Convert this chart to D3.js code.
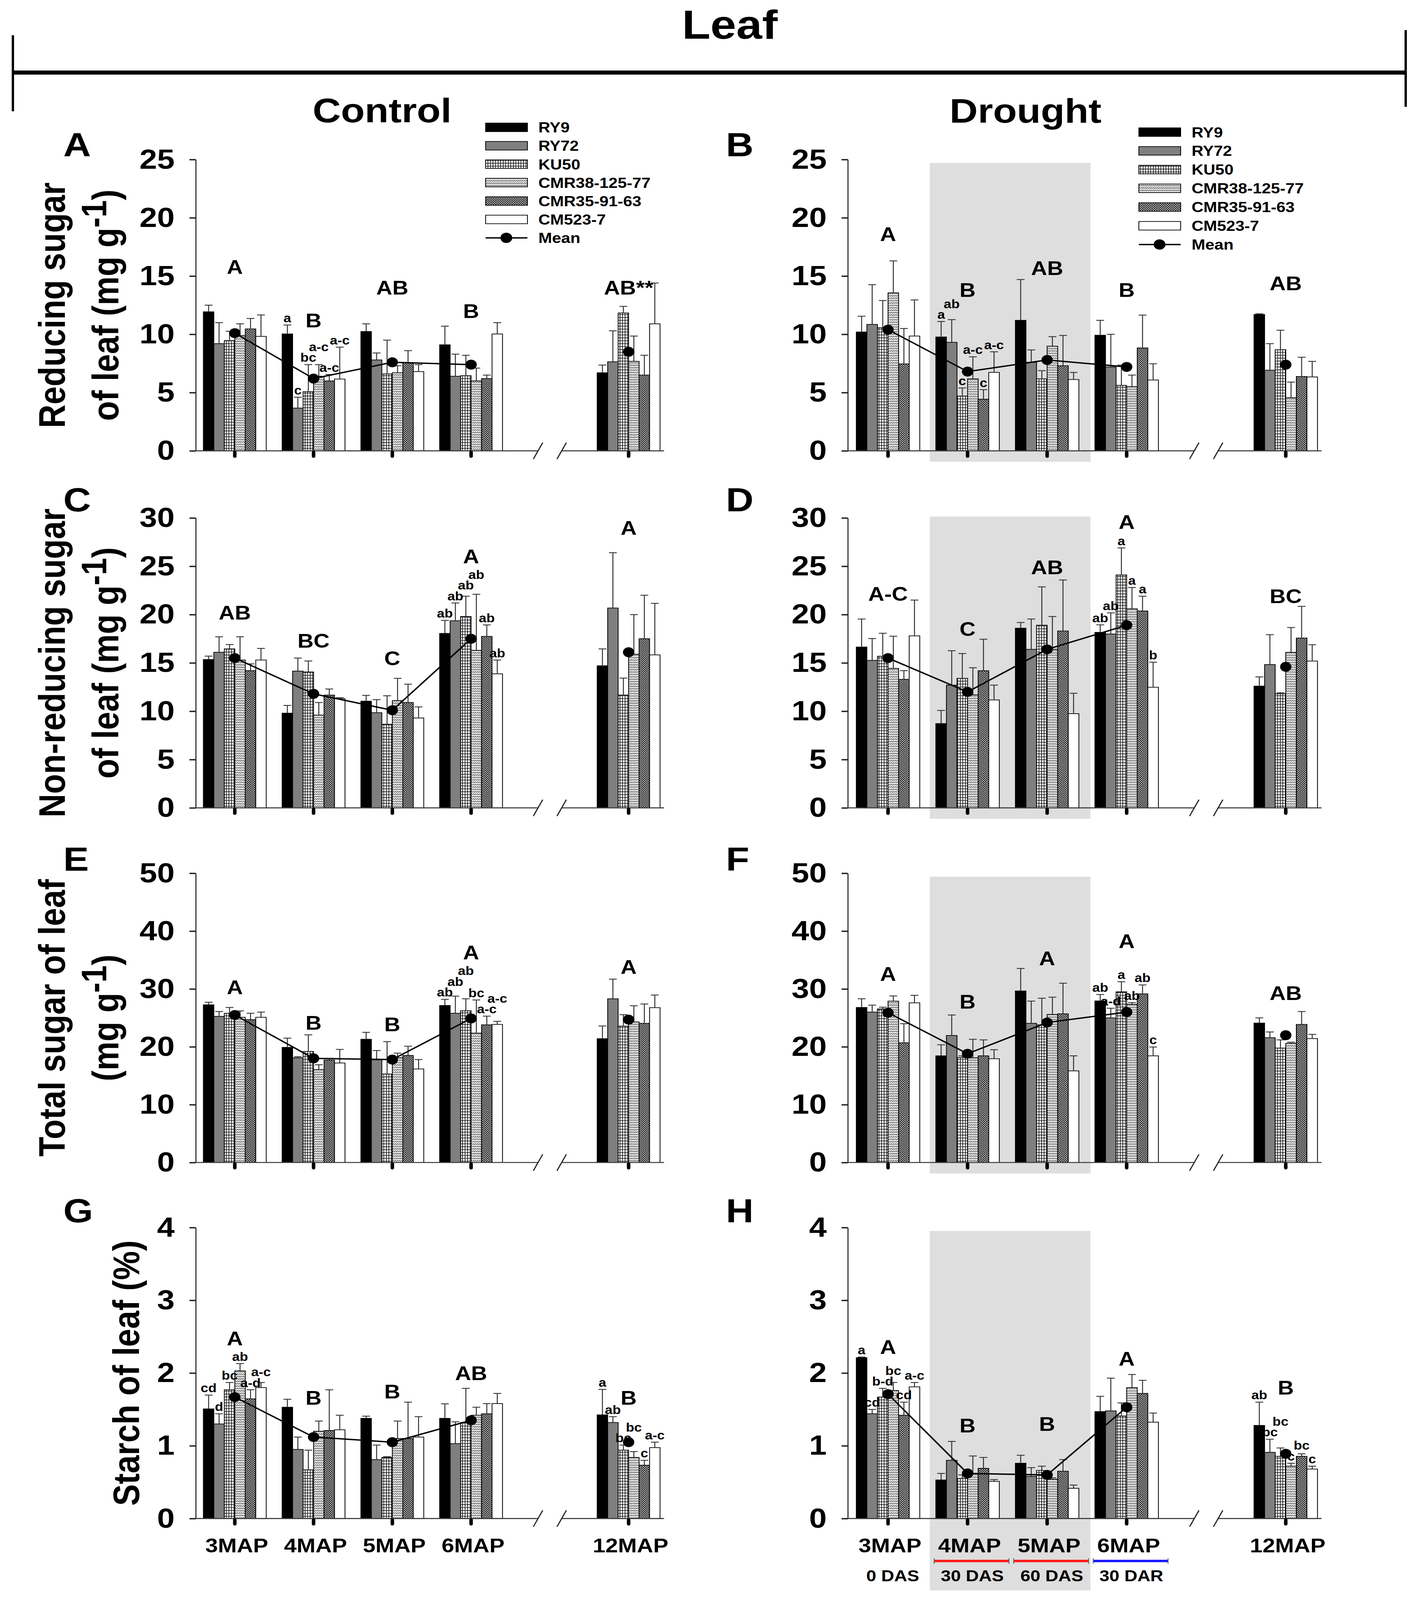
<!DOCTYPE html>
<html>
<head>
<meta charset="utf-8">
<script src="https://cdn.jsdelivr.net/npm/d3@7"></script>
<style>
  html, body { margin: 0; padding: 0; background: #fff; overflow: hidden; }
  svg { display: block; }
  text { font-family: "Liberation Sans", Arial, Helvetica, sans-serif; font-weight: bold; fill: #000; }
</style>
</head>
<body>
<div id="chart"></div>
<script>

// 1. Data

const groups = ["3MAP", "4MAP", "5MAP", "6MAP", "12MAP"];
const groupPos = [0, 1, 2, 3, 5];   // 12MAP sits after the axis break
const cultivars = ["RY9", "RY72", "KU50", "CMR38-125-77", "CMR35-91-63", "CM523-7"];

// A - reducing sugar, control
const redCtrl = [
    [11.93, 9.2, 9.46, 9.9, 10.46, 9.82],
    [10.03, 3.67, 5.08, 6.4, 6.0, 6.16],
    [10.24, 7.8, 6.6, 6.7, 7.57, 6.8],
    [9.1, 6.4, 6.45, 6.0, 6.2, 10.03],
    [6.7, 7.64, 11.83, 7.68, 6.5, 10.9]
];
const redCtrlSE = [
    [0.57, 1.8, 0.8, 1.0, 0.9, 1.84],
    [0.77, 0.93, 2.32, 1.0, 0.55, 2.74],
    [0.66, 0.6, 2.9, 0.6, 1.03, 0.6],
    [1.6, 1.9, 1.75, 1.1, 0.3, 0.97],
    [0.66, 2.66, 0.57, 2.17, 1.7, 3.5]
];
const redCtrlMean = [10.1, 6.2, 7.6, 7.4, 8.5];
const redCtrlLetters = ["A", "B", "AB", "B", "AB**"];
const redCtrlLetterY = [15.8, 11.2, 14.0, 12.0, 14.0];
const redCtrlSmall = {1: ["a", "c", "bc", "a-c", "a-c", "a-c"]};

// B - reducing sugar, drought
const redDrt = [
    [10.2, 10.85, 10.57, 13.56, 7.46, 9.85],
    [9.77, 9.31, 4.7, 6.18, 4.43, 6.73],
    [11.2, 7.6, 6.18, 8.98, 7.3, 6.12],
    [9.92, 7.2, 5.62, 5.51, 8.83, 6.08],
    [11.7, 6.92, 8.68, 4.56, 6.38, 6.34]
];
const redDrtSE = [
    [1.35, 3.41, 2.33, 2.74, 3.04, 3.1],
    [1.33, 1.95, 0.7, 1.89, 0.82, 1.77],
    [3.5, 1.06, 0.7, 0.82, 2.6, 0.61],
    [1.28, 2.8, 1.74, 0.99, 2.82, 1.39],
    [0.06, 2.28, 1.67, 1.34, 1.65, 1.34]
];
const redDrtMean = [10.4, 6.8, 7.8, 7.2, 7.4];
const redDrtLetters = ["A", "B", "AB", "B", "AB"];
const redDrtLetterY = [18.6, 13.8, 15.7, 13.8, 14.4];
const redDrtSmall = {1: ["a", "ab", "c", "a-c", "c", "a-c"]};

// C - non-reducing sugar, control
const nonCtrl = [
    [15.35, 16.1, 16.45, 15.3, 14.2, 15.3],
    [9.8, 14.15, 14.06, 9.6, 11.67, 11.3],
    [11.04, 9.85, 8.65, 11.1, 10.9, 9.3],
    [18.05, 19.36, 19.8, 16.3, 17.74, 13.87],
    [14.7, 20.68, 11.67, 15.9, 17.5, 15.83]
];
const nonCtrlSE = [
    [0.35, 1.6, 0.45, 2.4, 0.7, 1.2],
    [0.8, 1.35, 1.14, 1.3, 0.63, 0.1],
    [0.6, 1.35, 2.95, 2.3, 1.9, 1.15],
    [1.35, 1.84, 2.1, 5.8, 1.19, 1.43],
    [1.75, 5.72, 1.76, 4.1, 4.5, 5.33]
];
const nonCtrlMean = [15.5, 11.8, 10.1, 17.5, 16.1];
const nonCtrlLetters = ["AB", "BC", "C", "A", "A"];
const nonCtrlLetterY = [20.2, 17.3, 15.5, 25.6, 29.0];
const nonCtrlSmall = {3: ["ab", "ab", "ab", "ab", "ab", "ab"]};

// D - non-reducing sugar, drought
const nonDrt = [
    [16.64, 15.26, 15.69, 14.43, 13.3, 17.8],
    [8.72, 12.7, 13.4, 11.7, 14.19, 11.17],
    [18.59, 16.4, 18.9, 16.4, 18.3, 9.75],
    [18.16, 17.99, 24.1, 20.6, 20.37, 12.48],
    [12.6, 14.83, 11.81, 16.09, 17.57, 15.19]
];
const nonDrtSE = [
    [2.9, 2.26, 2.38, 3.33, 0.9, 3.7],
    [1.36, 3.56, 2.57, 2.8, 3.26, 1.53],
    [0.59, 3.14, 3.97, 3.4, 5.28, 2.11],
    [0.78, 2.19, 2.8, 2.2, 1.53, 2.59],
    [0.95, 3.09, 0.1, 2.57, 3.28, 1.69]
];
const nonDrtMean = [15.5, 12.0, 16.4, 18.9, 14.6];
const nonDrtLetters = ["A-C", "C", "AB", "A", "BC"];
const nonDrtLetterY = [22.15, 18.5, 24.9, 29.6, 21.9];
const nonDrtSmall = {3: ["ab", "ab", "a", "a", "a", "b"]};

// E - total sugar, control
const totCtrl = [
    [27.26, 25.26, 25.8, 25.1, 24.7, 25.1],
    [19.9, 18.1, 19.2, 16.05, 17.7, 17.2],
    [21.3, 17.74, 15.3, 18.1, 18.5, 16.17],
    [27.14, 25.8, 26.24, 22.37, 23.8, 23.87],
    [21.4, 28.3, 23.57, 24.3, 24.06, 26.77]
];
const totCtrlSE = [
    [0.44, 0.84, 1.0, 1.1, 1.1, 0.9],
    [1.6, 0.2, 2.87, 0.85, 0.3, 2.35],
    [1.2, 1.62, 5.6, 0.8, 1.6, 1.63],
    [1.06, 2.96, 2.06, 5.73, 1.5, 0.53],
    [2.2, 3.4, 1.99, 2.8, 3.34, 2.18]
];
const totCtrlMean = [25.5, 18.0, 17.8, 24.9, 24.7];
const totCtrlLetters = ["A", "B", "B", "A", "A"];
const totCtrlLetterY = [30.3, 24.2, 23.9, 33.8, 33.8];
const totCtrlSmall = {3: ["ab", "ab", "ab", "bc", "a-c", "a-c"]};

// F - total sugar, drought
const totDrt = [
    [26.8, 26.0, 26.55, 27.9, 20.7, 27.6],
    [18.44, 21.96, 18.13, 18.1, 18.44, 17.94],
    [29.65, 24.06, 23.8, 25.6, 25.7, 15.84],
    [27.93, 25.0, 29.5, 27.35, 29.15, 18.44],
    [24.1, 21.58, 19.78, 20.6, 23.87, 21.42]
];
const totDrtSE = [
    [1.5, 1.2, 0.3, 0.9, 3.3, 1.3],
    [1.91, 3.54, 0.3, 3.2, 2.76, 1.56],
    [3.9, 3.84, 4.6, 2.98, 5.3, 2.6],
    [1.11, 1.67, 1.75, 0.3, 1.55, 1.53],
    [0.9, 0.99, 1.42, 0.2, 2.23, 0.73]
];
const totDrtMean = [25.9, 18.8, 24.2, 26.0, 22.0];
const totDrtLetters = ["A", "B", "A", "A", "AB"];
const totDrtLetterY = [32.6, 27.8, 35.3, 38.3, 29.3];
const totDrtSmall = {3: ["ab", "a-d", "a", "ab", "ab", "c"]};

// G - starch, control
const stCtrl = [
    [1.507, 1.30, 1.77, 2.03, 1.645, 1.80],
    [1.53, 0.95, 0.67, 1.20, 1.21, 1.22],
    [1.377, 0.81, 0.84, 1.10, 1.10, 1.12],
    [1.377, 1.03, 1.32, 1.42, 1.44, 1.58],
    [1.425, 1.32, 0.94, 0.84, 0.733, 0.975]
];
const stCtrlSE = [
    [0.19, 0.14, 0.10, 0.10, 0.125, 0.07],
    [0.11, 0.17, 0.27, 0.14, 0.56, 0.20],
    [0.03, 0.20, 0.01, 0.24, 0.50, 0.28],
    [0.20, 0.30, 0.47, 0.11, 0.14, 0.14],
    [0.35, 0.08, 0.07, 0.08, 0.067, 0.075]
];
const stCtrlMean = [1.67, 1.12, 1.05, 1.35, 1.05];
const stCtrlLetters = ["A", "B", "B", "AB", "B"];
const stCtrlLetterY = [2.48, 1.66, 1.75, 2.0, 1.66];
const stCtrlSmall = {
    0: ["cd", "d", "bc", "ab", "a-d", "a-c"],
    4: ["a", "ab", "bc", "bc", "c", "a-c"]
};

// H - starch, drought
const stDrt = [
    [2.21, 1.44, 1.67, 1.76, 1.42, 1.81],
    [0.53, 0.80, 0.55, 0.62, 0.69, 0.51],
    [0.76, 0.58, 0.66, 0.54, 0.65, 0.415],
    [1.47, 1.48, 1.41, 1.80, 1.72, 1.325],
    [1.28, 0.91, 0.855, 0.72, 0.855, 0.68]
];
const stDrtSE = [
    [0.01, 0.06, 0.12, 0.11, 0.18, 0.06],
    [0.09, 0.26, 0.05, 0.24, 0.15, 0.025],
    [0.11, 0.12, 0.06, 0.02, 0.16, 0.045],
    [0.21, 0.45, 0.18, 0.18, 0.18, 0.125],
    [0.32, 0.18, 0.115, 0.04, 0.035, 0.04]
];
const stDrtMean = [1.71, 0.62, 0.60, 1.53, 0.89];
const stDrtLetters = ["A", "B", "B", "A", "B"];
const stDrtLetterY = [2.36, 1.28, 1.30, 2.2, 1.8];
const stDrtSmall = {
    0: ["a", "cd", "b-d", "bc", "cd", "a-c"],
    4: ["ab", "bc", "bc", "c", "bc", "c"]
};

// drought stage annotation under panel H
const stageLabels = ["0 DAS", "30 DAS", "60 DAS", "30 DAR"];
const stageColors = [null, "#ff1a1a", "#ff1a1a", "#1a1aff"];

const yMax = [25, 30, 50, 4];
const yStep = [5, 5, 10, 1];

const panels = [
    {id: "A", col: 0, row: 0, v: redCtrl, se: redCtrlSE, mean: redCtrlMean, L: redCtrlLetters, LY: redCtrlLetterY, small: redCtrlSmall,
     title: ["Reducing sugar", "of leaf (mg g", "-1", ")"]},
    {id: "B", col: 1, row: 0, v: redDrt, se: redDrtSE, mean: redDrtMean, L: redDrtLetters, LY: redDrtLetterY, small: redDrtSmall},
    {id: "C", col: 0, row: 1, v: nonCtrl, se: nonCtrlSE, mean: nonCtrlMean, L: nonCtrlLetters, LY: nonCtrlLetterY, small: nonCtrlSmall,
     title: ["Non-reducing sugar", "of leaf (mg g", "-1", ")"]},
    {id: "D", col: 1, row: 1, v: nonDrt, se: nonDrtSE, mean: nonDrtMean, L: nonDrtLetters, LY: nonDrtLetterY, small: nonDrtSmall},
    {id: "E", col: 0, row: 2, v: totCtrl, se: totCtrlSE, mean: totCtrlMean, L: totCtrlLetters, LY: totCtrlLetterY, small: totCtrlSmall,
     title: ["Total sugar of leaf", "(mg g", "-1", ")"]},
    {id: "F", col: 1, row: 2, v: totDrt, se: totDrtSE, mean: totDrtMean, L: totDrtLetters, LY: totDrtLetterY, small: totDrtSmall},
    {id: "G", col: 0, row: 3, v: stCtrl, se: stCtrlSE, mean: stCtrlMean, L: stCtrlLetters, LY: stCtrlLetterY, small: stCtrlSmall,
     title: [null, "Starch of leaf (%)", null, null]},
    {id: "H", col: 1, row: 3, v: stDrt, se: stDrtSE, mean: stDrtMean, L: stDrtLetters, LY: stDrtLetterY, small: stDrtSmall}
];

// 2. Dimensions (laid out on a 3609 x 4674 grid, then fitted to the window)

const width = 3609;
const height = 4674;

const cols = [
    {axisX: 501, x0: 601, x5: 1609, letterX: 162, legendX: 1243, legendY: 372, legendGap: 53.8},
    {axisX: 2170, x0: 2273, x5: 3291, letterX: 1858, legendX: 2915, legendY: 386, legendGap: 54.7}
];
const rows = [
    {top: 466, bottom: 1317, letterY: 457},
    {top: 1513, bottom: 2360, letterY: 1494},
    {top: 2551, bottom: 3396, letterY: 2544},
    {top: 3586, bottom: 4436, letterY: 3570}
];
const axisEndP = 5.45;
const breakP = [3.85, 4.15];
const barFrac = 0.133;

// 3. Canvas

const svg = d3.select("#chart")
    .append("svg")
        .attr("width", window.innerWidth || width)
        .attr("height", window.innerHeight || height)
        .attr("viewBox", `0 0 ${width} ${height}`)
        .attr("preserveAspectRatio", "none");

svg.append("rect").attr("width", width).attr("height", height).attr("fill", "#fff");

// patterns for the hatched cultivars
const defs = svg.append("defs");

const pGrid = defs.append("pattern")
    .attr("id", "pGrid").attr("patternUnits", "userSpaceOnUse")
    .attr("width", 6.5).attr("height", 8.5);
pGrid.append("rect").attr("width", 6.5).attr("height", 8.5).attr("fill", "#fff");
pGrid.append("path").attr("d", "M0 0.8 H6.5 M0.8 0 V8.5")
    .attr("stroke", "#000").attr("stroke-width", 1.6);

const pZig = defs.append("pattern")
    .attr("id", "pZig").attr("patternUnits", "userSpaceOnUse")
    .attr("width", 10).attr("height", 7);
pZig.append("rect").attr("width", 10).attr("height", 7).attr("fill", "#f2f2f2");
pZig.append("path").attr("d", "M0 5 L2.5 1.5 L5 5 L7.5 1.5 L10 5")
    .attr("stroke", "#555").attr("stroke-width", 1.5).attr("fill", "none");

const pCross = defs.append("pattern")
    .attr("id", "pCross").attr("patternUnits", "userSpaceOnUse")
    .attr("width", 6).attr("height", 6);
pCross.append("rect").attr("width", 6).attr("height", 6).attr("fill", "#fff");
pCross.append("path").attr("d", "M0 0 L6 6 M6 0 L0 6")
    .attr("stroke", "#222").attr("stroke-width", 1.9);

const fills = ["#000", "#7f7f7f", "url(#pGrid)", "url(#pZig)", "url(#pCross)", "#fff"];

// 4. Header: Leaf bracket, Control / Drought

svg.append("text")
    .attr("x", 1868).attr("y", 113)
    .attr("text-anchor", "middle")
    .attr("font-size", 119)
    .text("Leaf");

svg.append("line").attr("x1", 32).attr("x2", 3600).attr("y1", 212).attr("y2", 212)
    .attr("stroke", "#000").attr("stroke-width", 12);
svg.append("line").attr("x1", 33).attr("x2", 33).attr("y1", 103).attr("y2", 325)
    .attr("stroke", "#000").attr("stroke-width", 6);
svg.append("line").attr("x1", 3598).attr("x2", 3598).attr("y1", 88).attr("y2", 312)
    .attr("stroke", "#000").attr("stroke-width", 6);

svg.append("text").attr("x", 978).attr("y", 357)
    .attr("text-anchor", "middle").attr("font-size", 100).text("Control");
svg.append("text").attr("x", 2625).attr("y", 358)
    .attr("text-anchor", "middle").attr("font-size", 100).text("Drought");

const overlaps = (b, q, pad) => b.x < q.x + q.width - 1 && q.x < b.x + b.width - 1
    && b.y < q.y + q.height - pad && q.y < b.y + b.height - pad;

// nudge a small letter upward until it clears the ones already placed
function stackLabels(nodes) {
    const placed = [];
    nodes.forEach(node => {
        for (let k = 0; k < 8; k++) {
            const b = node.getBBox();
            const hit = placed.find(q => overlaps(b, q, 6));
            if (!hit) break;
            const cur = +node.getAttribute("y");
            node.setAttribute("y", cur - (b.y + b.height - hit.y) + 8);
        }
        placed.push(node.getBBox());
    });
    return placed;
}

// 5. Panels

panels.forEach(p => {
    const c = cols[p.col];
    const r = rows[p.row];
    const g = svg.append("g").attr("id", "panel" + p.id);

    const xScale = d3.scaleLinear().domain([0, 5]).range([c.x0, c.x5]);
    const step = xScale(1) - xScale(0);
    const bw = step * barFrac;
    const yScale = d3.scaleLinear().domain([0, yMax[p.row]]).range([r.bottom, r.top]);
    const y0 = yScale(0);

    // drought period shading
    if (p.col === 1) {
        const shTop = r.top + (p.row === 1 ? -4 : 10);
        g.append("rect")
            .attr("x", xScale(0.525))
            .attr("width", xScale(2.545) - xScale(0.525))
            .attr("y", shTop)
            .attr("height", (p.row === 3 ? 4646 : y0 + 32) - shTop)
            .attr("fill", "#dedede");
    }

    // bars
    const barData = [];
    p.v.forEach((vals, gi) => vals.forEach((val, ci) => barData.push({gi, ci, val, se: p.se[gi][ci]})));
    const cx = d => xScale(groupPos[d.gi]) + (d.ci - 2.5) * bw;

    g.append("g").selectAll("rect")
        .data(barData)
        .join("rect")
            .attr("x", d => cx(d) - bw / 2)
            .attr("width", bw)
            .attr("y", d => yScale(d.val))
            .attr("height", d => y0 - yScale(d.val))
            .attr("fill", d => fills[d.ci])
            .attr("stroke", "#000")
            .attr("stroke-width", 2);

    // error bars (upper only)
    const err = g.append("g").attr("stroke", "#333").attr("stroke-width", 2.5);
    err.selectAll("line.v")
        .data(barData)
        .join("line")
            .attr("class", "v")
            .attr("x1", cx).attr("x2", cx)
            .attr("y1", d => yScale(d.val))
            .attr("y2", d => yScale(d.val + d.se));
    err.selectAll("line.cap")
        .data(barData)
        .join("line")
            .attr("class", "cap")
            .attr("x1", d => cx(d) - 10).attr("x2", d => cx(d) + 10)
            .attr("y1", d => yScale(d.val + d.se))
            .attr("y2", d => yScale(d.val + d.se));

    // mean line and dots
    const meanLine = d3.line()
        .x((d, i) => xScale(groupPos[i]))
        .y(d => yScale(d));
    g.append("path")
        .attr("d", meanLine(p.mean.slice(0, 4)))
        .attr("fill", "none")
        .attr("stroke", "#000")
        .attr("stroke-width", 4);
    g.append("g").selectAll("circle")
        .data(p.mean)
        .join("circle")
            .attr("cx", (d, i) => xScale(groupPos[i]))
            .attr("cy", d => yScale(d))
            .attr("r", 14.5)
            .attr("fill", "#000");

    // y axis
    const yAxis = d3.axisLeft(yScale)
        .tickValues(d3.range(0, yMax[p.row] + yStep[p.row] / 2, yStep[p.row]))
        .tickFormat(d3.format("d"))
        .tickSize(16)
        .tickSizeOuter(0)
        .tickPadding(38);
    const ya = g.append("g")
        .attr("transform", `translate(${c.axisX},0)`)
        .call(yAxis);
    ya.select(".domain").attr("stroke", "#3a3a3a").attr("stroke-width", 3);
    ya.selectAll(".tick line").attr("stroke", "#222").attr("stroke-width", 4);
    ya.selectAll(".tick text")
        .attr("font-size", 81)
        .attr("font-family", "'Liberation Sans', Arial, sans-serif")
        .attr("font-weight", "bold")
        .attr("fill", "#000");

    // x axis with break
    const xa = g.append("g").attr("stroke", "#3a3a3a").attr("stroke-width", 3);
    xa.append("line")
        .attr("x1", c.axisX).attr("x2", xScale(breakP[0]))
        .attr("y1", y0).attr("y2", y0);
    xa.append("line")
        .attr("x1", xScale(breakP[1])).attr("x2", xScale(axisEndP))
        .attr("y1", y0).attr("y2", y0);
    breakP.forEach(bp => {
        xa.append("line")
            .attr("x1", xScale(bp) - 12).attr("x2", xScale(bp) + 12)
            .attr("y1", y0 + 24).attr("y2", y0 - 24)
            .attr("stroke", "#222").attr("stroke-width", 3);
    });
    g.append("g").selectAll("line")
        .data(groupPos)
        .join("line")
            .attr("x1", d => xScale(d)).attr("x2", d => xScale(d))
            .attr("y1", y0 + 4).attr("y2", y0 + 16)
            .attr("stroke", "#000")
            .attr("stroke-width", 9)
            .attr("stroke-linecap", "round");

    // significance letters
    const bigLetters = g.append("g").selectAll("text")
        .data(p.L)
        .join("text")
            .attr("x", (d, i) => xScale(groupPos[i]))
            .attr("y", (d, i) => yScale(p.LY[i]))
            .attr("dy", "0.36em")
            .attr("text-anchor", "middle")
            .attr("font-size", 57)
            .text(d => d)
        .nodes();

    Object.keys(p.small).forEach(k => {
        const sd = p.small[k].map((lab, ci) => ({gi: +k, ci, lab, top: p.v[k][ci] + p.se[k][ci]}));
        const labs = g.append("g").selectAll("text")
            .data(sd)
            .join("text")
                .attr("x", d => cx(d))
                .attr("y", d => yScale(d.top) - 8)
                .attr("text-anchor", "middle")
                .attr("font-size", 35)
                .text(d => d.lab);
        const boxes = stackLabels(labs.nodes());
        // keep the group letter clear of the stacked small letters
        const big = bigLetters[+k];
        for (let t = 0; t < 6; t++) {
            const bb = big.getBBox();
            const hit = boxes.find(q => overlaps(bb, q, 2));
            if (!hit) break;
            big.setAttribute("y", +big.getAttribute("y") - (bb.y + bb.height - hit.y) - 2);
        }
    });

    // panel letter
    g.append("text")
        .attr("x", c.letterX).attr("y", r.letterY)
        .attr("font-size", 98)
        .text(p.id);

    // y title
    if (p.title) {
        const cy = (r.top + r.bottom) / 2;
        if (p.title[0]) {
            g.append("text")
                .attr("transform", `translate(166,${cy}) rotate(-90)`)
                .attr("text-anchor", "middle")
                .attr("font-size", 95)
                .text(p.title[0]);
        }
        const t2 = g.append("text")
            .attr("transform", `translate(${p.title[0] ? 303 : 356},${cy}) rotate(-90)`)
            .attr("text-anchor", "middle")
            .attr("font-size", 95);
        t2.append("tspan").text(p.title[1]);
        if (p.title[2]) {
            t2.append("tspan").attr("font-size", 90).attr("dy", "-0.34em").text(p.title[2]);
            t2.append("tspan").attr("dy", "0.32em").text(p.title[3]);
        }
    }

    // x labels for the bottom row
    if (p.row === 3) {
        g.append("g").selectAll("text")
            .data(groups)
            .join("text")
                .attr("x", (d, i) => xScale(groupPos[i]) + 5)
                .attr("y", 4535)
                .attr("text-anchor", "middle")
                .attr("font-size", 58)
                .text(d => d);
    }

    // drought stage marks under H
    if (p.id === "H") {
        const st = g.append("g");
        stageLabels.forEach((lab, i) => {
            st.append("text")
                .attr("x", xScale(groupPos[i]) + 12)
                .attr("y", 4619)
                .attr("text-anchor", "middle")
                .attr("font-size", 46)
                .text(lab);
            if (stageColors[i]) {
                const xa1 = xScale(groupPos[i] - 0.42);
                const xa2 = xScale(groupPos[i] + 0.52);
                st.append("line")
                    .attr("x1", xa1).attr("x2", xa2)
                    .attr("y1", 4560).attr("y2", 4560)
                    .attr("stroke", stageColors[i]).attr("stroke-width", 7);
                [xa1, xa2].forEach(xe => st.append("line")
                    .attr("x1", xe).attr("x2", xe)
                    .attr("y1", 4552).attr("y2", 4568)
                    .attr("stroke", "#555").attr("stroke-width", 2));
            }
        });
    }

    // legend for the top row
    if (p.row === 0) {
        const lg = g.append("g");
        const items = cultivars.concat(["Mean"]);
        items.forEach((name, i) => {
            const ly = c.legendY + i * c.legendGap;
            if (i < cultivars.length) {
                lg.append("rect")
                    .attr("x", c.legendX).attr("y", ly - 12.5)
                    .attr("width", 107).attr("height", 25)
                    .attr("fill", fills[i])
                    .attr("stroke", "#000").attr("stroke-width", 2);
            } else {
                lg.append("line")
                    .attr("x1", c.legendX).attr("x2", c.legendX + 107)
                    .attr("y1", ly).attr("y2", ly)
                    .attr("stroke", "#000").attr("stroke-width", 4);
                lg.append("circle")
                    .attr("cx", c.legendX + 53).attr("cy", ly).attr("r", 15);
            }
            lg.append("text")
                .attr("x", c.legendX + 135).attr("y", ly)
                .attr("dy", "0.36em")
                .attr("font-size", 42)
                .text(name);
        });
    }
});

</script>
</body>
</html>
